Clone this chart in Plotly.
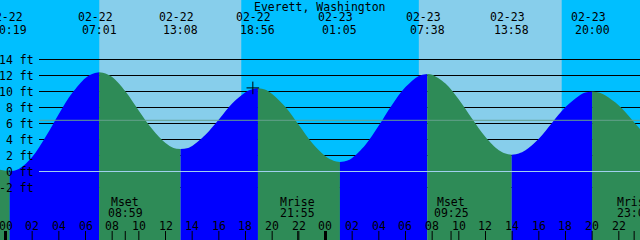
import plotly.graph_objects as go

# ---------------- data ----------------
station = "Everett, Washington"

# tide height samples (hours from 02-22 00:00, feet)
tide_hours = [-0.5, 0.317, 1, 2, 3, 4, 5, 6, 6.5, 7.017, 7.5, 8, 9, 10, 11, 12, 12.6,
              13.133, 13.6, 14, 15, 16, 17, 18, 18.45, 18.933, 19.45, 20, 21, 22, 23,
              24, 24.6, 25.083, 25.6, 26, 27, 28, 29, 30, 31, 31.633, 32, 33, 34, 35,
              36, 37, 37.5, 37.967, 38.5, 39, 40, 41, 42, 43, 43.5, 44.0, 44.5, 45,
              46, 47, 47.75]
tide_ft = [0.25, 0.0, 0.3, 1.8, 4.3, 7.2, 9.8, 11.7, 12.2, 12.4, 12.25, 11.8, 10.0,
           7.6, 5.3, 3.55, 2.95, 2.8, 2.9, 3.2, 4.6, 6.5, 8.5, 9.9, 10.25, 10.4,
           10.25, 9.7, 8.05, 5.8, 3.55, 1.9, 1.35, 1.2, 1.35, 1.7, 3.35, 5.75, 8.35,
           10.55, 11.95, 12.2, 12.1, 11.0, 9.0, 6.6, 4.3, 2.65, 2.25, 2.1, 2.25, 2.65,
           4.1, 6.1, 8.05, 9.45, 9.87, 10.0, 9.87, 9.5, 8.25, 6.45, 5.0]

# high / low tide events
event_hours = [0.317, 7.017, 13.133, 18.933, 25.083, 31.633, 37.967, 44.0]
event_dates = ["02-22", "02-22", "02-22", "02-22", "02-23", "02-23", "02-23", "02-23"]
event_times = ["00:19", "07:01", "13:08", "18:56", "01:05", "07:38", "13:58", "20:00"]

# daylight
sunrise_hours = [7.033, 31.0]
sunset_hours = [17.683, 41.717]

# moon events
moon_hours = [8.983, 21.917, 33.417, 47.15]
moon_names = ["Mset", "Mrise", "Mset", "Mrise"]
moon_times = ["08:59", "21:55", "09:25", "23:09"]

# hour axis
hour_ticks = [0, 2, 4, 6, 8, 10, 12, 14, 16, 18, 20, 22, 24, 26, 28, 30, 32, 34, 36,
              38, 40, 42, 44, 46, 48]
hour_labels = ["00", "02", "04", "06", "08", "10", "12", "14", "16", "18", "20", "22",
               "00", "02", "04", "06", "08", "10", "12", "14", "16", "18", "20", "22",
               "00"]
midnight_hours = [0, 24, 48]

# height axis
level_ft = [14, 12, 10, 8, 6, 4, 2, 0, -2]
level_labels = ["14 ft", "12 ft", "10 ft", "8 ft", "6 ft", "4 ft", "2 ft", "0 ft", "-2 ft"]
msl_ft = 6.4
datum_ft = 0

mark_hours = [18.55]
mark_ft = [10.45]

# ---------------- styling / geometry ----------------
W, H = 640, 240
PX_PER_H = 13.333
X_ORIGIN = 5.5          # pixel of 02-22 00:00
PX_PER_FT = 8.0
Y_ZERO = 171.5          # pixel of 0 ft
X0 = -X_ORIGIN / PX_PER_H
X1 = (W - X_ORIGIN) / PX_PER_H
Y1 = Y_ZERO / PX_PER_FT
Y0 = (Y_ZERO - H) / PX_PER_FT
FLOOR = Y0 - 2

NIGHT = "#00bfff"
DAY = "#87ceeb"
FLOOD = "#0000ff"
EBB = "#2e8b57"
MSL_COLOR = "#64a08c"
DATUM_COLOR = "#a0d0ee"
FONT = dict(family="DejaVu Sans Mono", size=11.5, color="black")


def py(pix):
    return 1 - pix / H


fig = go.Figure()

# water fills, split at each high / low
split = [i for i, t in enumerate(tide_hours) if any(abs(t - e) < 1e-6 for e in event_hours)]
bounds = [0] + split + [len(tide_hours) - 1]
for a, b in zip(bounds[:-1], bounds[1:]):
    if b <= a:
        continue
    xs = tide_hours[a:b + 1]
    ys = tide_ft[a:b + 1]
    color = FLOOD if ys[-1] > ys[0] else EBB
    fig.add_trace(go.Scatter(x=[xs[0], xs[-1]], y=[FLOOR, FLOOR], mode="lines",
                             line=dict(width=0), hoverinfo="skip", showlegend=False))
    fig.add_trace(go.Scatter(x=xs, y=ys, mode="lines",
                             line=dict(width=0, shape="spline", smoothing=1),
                             fill="tonexty", fillcolor=color,
                             hoverinfo="skip", showlegend=False))

fig.add_trace(go.Scatter(x=mark_hours, y=mark_ft, mode="markers",
                         marker=dict(symbol="cross-thin", size=9,
                                     line=dict(color="black", width=1)),
                         hoverinfo="skip", showlegend=False))

shapes = []
for r, s in zip(sunrise_hours, sunset_hours):
    shapes.append(dict(type="rect", xref="x", yref="paper", x0=r, x1=s, y0=0, y1=1,
                       fillcolor=DAY, line=dict(width=0), layer="below"))
for lv in level_ft:
    shapes.append(dict(type="line", xref="paper", yref="y", x0=39 / W, x1=1, y0=lv, y1=lv,
                       line=dict(color="black", width=1), layer="below"))
shapes.append(dict(type="line", xref="paper", yref="y", x0=39 / W, x1=1, y0=msl_ft, y1=msl_ft,
                   line=dict(color=MSL_COLOR, width=1), layer="above"))
shapes.append(dict(type="line", xref="paper", yref="y", x0=39 / W, x1=1, y0=datum_ft, y1=datum_ft,
                   line=dict(color=DATUM_COLOR, width=1), layer="above"))
for h in hour_ticks:
    shapes.append(dict(type="line", xref="x", yref="paper", x0=h, x1=h, y0=0, y1=py(231),
                       line=dict(color="black", width=3 if h in midnight_hours else 1),
                       layer="above"))
for h in moon_hours:
    shapes.append(dict(type="line", xref="x", yref="paper", x0=h, x1=h, y0=0, y1=py(231),
                       line=dict(color="black", width=1), layer="above"))

ann = []
ann.append(dict(text=station, x=0.5, xref="paper", y=py(6.5), yref="paper",
                showarrow=False, font=FONT, xanchor="center", yanchor="middle"))
for h, d, t in zip(event_hours, event_dates, event_times):
    ann.append(dict(text=d, x=h, xref="x", y=py(17.5), yref="paper", xshift=-4,
                    showarrow=False, font=FONT, xanchor="center", yanchor="middle"))
    ann.append(dict(text=t, x=h, xref="x", y=py(29.5), yref="paper",
                    showarrow=False, font=FONT, xanchor="center", yanchor="middle"))
for h, n, t in zip(moon_hours, moon_names, moon_times):
    ann.append(dict(text=n, x=h, xref="x", y=py(201.5), yref="paper",
                    showarrow=False, font=FONT, xanchor="center", yanchor="middle"))
    ann.append(dict(text=t, x=h, xref="x", y=py(212.5), yref="paper",
                    showarrow=False, font=FONT, xanchor="center", yanchor="middle"))
for h, lab in zip(hour_ticks, hour_labels):
    ann.append(dict(text=lab, x=h, xref="x", y=py(225.5), yref="paper",
                    showarrow=False, font=FONT, xanchor="center", yanchor="middle"))
for lv, lab in zip(level_ft, level_labels):
    ann.append(dict(text=lab, x=36 / W, xref="paper", y=lv, yref="y",
                    showarrow=False, font=FONT, xanchor="right", yanchor="middle"))

fig.update_layout(
    width=W, height=H, margin=dict(l=0, r=0, t=0, b=0),
    plot_bgcolor=NIGHT, paper_bgcolor=NIGHT,
    xaxis=dict(range=[X0, X1], visible=False, fixedrange=True),
    yaxis=dict(range=[Y0, Y1], visible=False, fixedrange=True),
    shapes=shapes, annotations=ann, showlegend=False,
)

fig.write_html("out.html", config={"displayModeBar": False})
